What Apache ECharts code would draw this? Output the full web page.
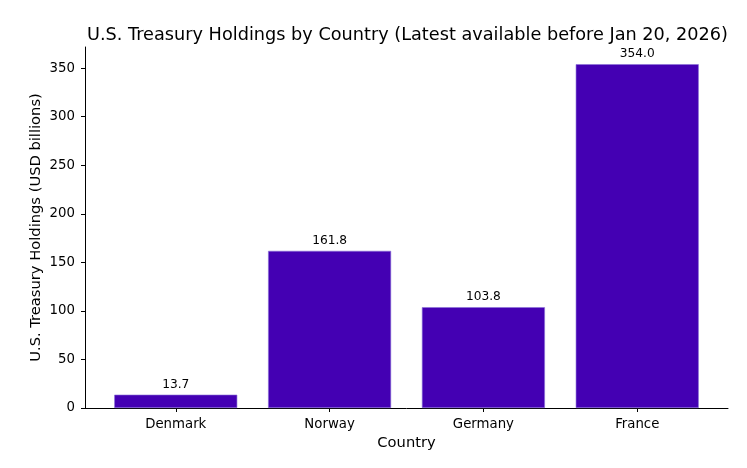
<!DOCTYPE html>
<html><head><meta charset="utf-8">
<script src="https://cdn.jsdelivr.net/npm/echarts@6/dist/echarts.min.js"></script>
<style>html,body{margin:0;padding:0;background:#fff}#c{width:747px;height:468px}</style>
</head><body><div id="c"></div>
<script>
const categories = ["Denmark", "Norway", "Germany", "France"];
const holdings = [13.7, 161.8, 103.8, 354.0];
const yTicks = [0, 50, 100, 150, 200, 250, 300, 350];

const font = "DejaVu Sans";
const chart = echarts.init(document.getElementById('c'), null, {renderer: 'canvas'});
const positions = categories.map((c, i) => i);
chart.setOption({
  animation: false,
  backgroundColor: '#fff',
  title: {
    text: 'U.S. Treasury Holdings by Country (Latest available before Jan 20, 2026)',
    left: 402.5, top: 21, textAlign: 'center',
    textStyle: {fontFamily: font, fontSize: 17.7, fontWeight: 'normal', color: '#000'}
  },
  grid: {left: 85, right: 19, top: 47, bottom: 60, containLabel: false},
  xAxis: {
    type: 'value', min: -0.59, max: 3.59,
    name: 'Country', nameLocation: 'middle', nameGap: 28, nameMoveOverlap: false,
    nameTextStyle: {fontFamily: font, fontSize: 14.7, color: '#000'},
    splitLine: {show: false},
    axisLine: {show: true, onZero: false, lineStyle: {color: '#000', width: 1}},
    axisTick: {show: true, length: 4, lineStyle: {color: '#000'}, customValues: positions},
    axisLabel: {fontFamily: font, fontSize: 13.3, color: '#000', margin: 10,
      customValues: positions,
      formatter: v => categories[Math.round(v)] ?? ''}
  },
  yAxis: {
    type: 'value', min: 0, max: 371.7, interval: 50,
    name: 'U.S. Treasury Holdings (USD billions)', nameLocation: 'middle', nameGap: 41, nameMoveOverlap: false,
    nameTextStyle: {fontFamily: font, fontSize: 14.7, color: '#000'},
    splitLine: {show: false},
    axisLine: {show: true, onZero: false, lineStyle: {color: '#000', width: 1}},
    axisTick: {show: true, length: 4, lineStyle: {color: '#000'}, customValues: yTicks},
    axisLabel: {fontFamily: font, fontSize: 13.3, color: '#000', margin: 10,
      customValues: yTicks}
  },
  series: [{
    type: 'bar',
    data: holdings.map((v, i) => [positions[i], v]),
    barWidth: 123,
    itemStyle: {color: '#4400b3', borderColor: '#8a70d8', borderWidth: 0.6},
    label: {show: true, position: 'top', distance: 4,
      fontFamily: font, fontSize: 12.2, color: '#000',
      formatter: p => p.value[1].toFixed(1)}
  }]
});
</script></body></html>
